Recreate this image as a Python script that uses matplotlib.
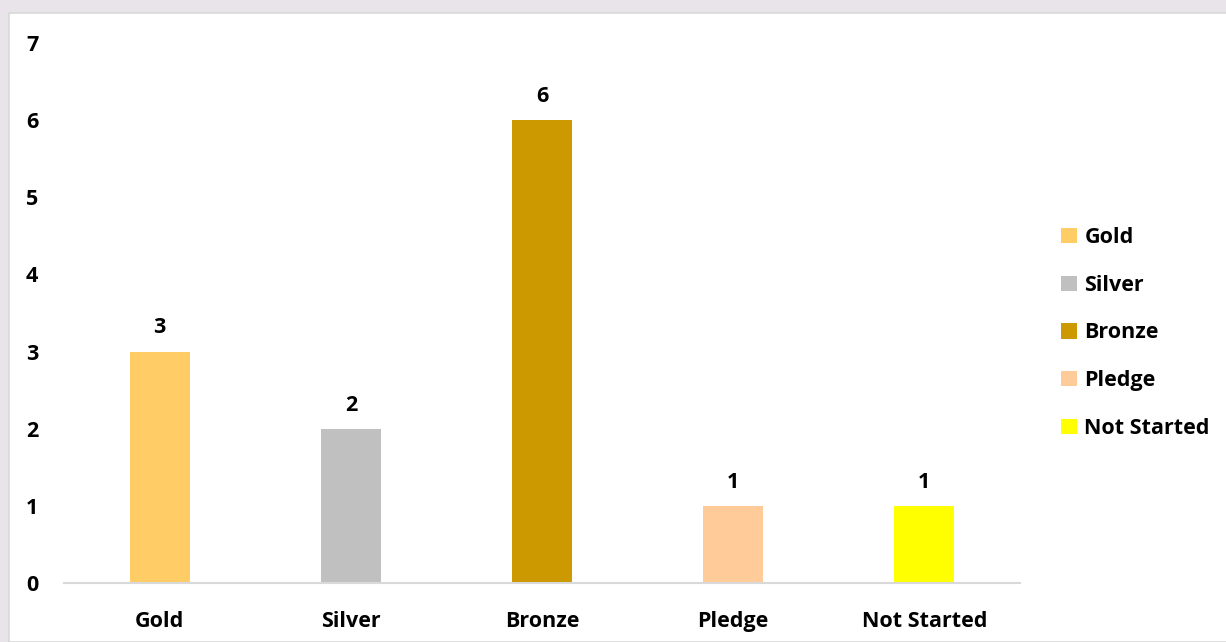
import matplotlib.pyplot as plt
from matplotlib.patches import Rectangle, Patch

# Status counts
categories = ['Gold', 'Silver', 'Bronze', 'Pledge', 'Not Started']
counts = [3, 2, 6, 1, 1]
colors = ['#FFCC66', '#C0C0C0', '#CC9900', '#FFCC99', '#FFFF00']

plt.rcParams['font.family'] = ['Open Sans', 'DejaVu Sans']
plt.rcParams['font.weight'] = 'bold'
FS = 15.5

W, H = 1226, 642
fig = plt.figure(figsize=(W / 100, H / 100), dpi=100)
fig.patch.set_facecolor('#E8E4EA')

# white chart panel
fig.patches.append(Rectangle((9 / W, 0), 1, 1 - 13 / H, transform=fig.transFigure,
                             facecolor='white', edgecolor='#D9D9D9', linewidth=1.2,
                             zorder=-5))

ax = fig.add_axes([64 / W, (H - 583) / H, (1020 - 64) / W, (583 - 43) / H])
ax.set_facecolor('none')
ax.set_zorder(2)

x = range(len(categories))
bars = ax.bar(x, counts, width=0.314, color=colors, zorder=2)
for xi, v in zip(x, counts):
    ax.text(xi, v + 0.17, str(v), ha='center', va='bottom', fontsize=FS,
            fontweight='bold', color='#000000')

ax.set_xlim(-0.5, len(categories) - 0.5)
ax.set_ylim(0, 7)
ax.set_yticks(range(8))
ax.set_xticks(list(x))
ax.set_xticklabels(categories)
ax.tick_params(axis='both', length=0, labelsize=FS, colors='black')
ax.tick_params(axis='y', pad=18.5)
ax.tick_params(axis='x', pad=20)
for lab in ax.get_xticklabels() + ax.get_yticklabels():
    lab.set_fontweight('bold')

for side in ['top', 'right', 'left']:
    ax.spines[side].set_visible(False)
ax.spines['bottom'].set_color('#D9D9D9')
ax.spines['bottom'].set_linewidth(1.5)

handles = [Patch(facecolor=c, edgecolor='none') for c in colors]
leg = fig.legend(handles, categories, loc='center left',
                 bbox_to_anchor=(1055 / W, (H - 333) / H), frameon=False,
                 prop={'weight': 'bold', 'size': FS}, handlelength=0.7,
                 handleheight=0.7, handletextpad=0.37, labelspacing=1.24,
                 borderaxespad=0, borderpad=0.3)

fig.savefig('out.png', dpi=100, facecolor=fig.get_facecolor())
